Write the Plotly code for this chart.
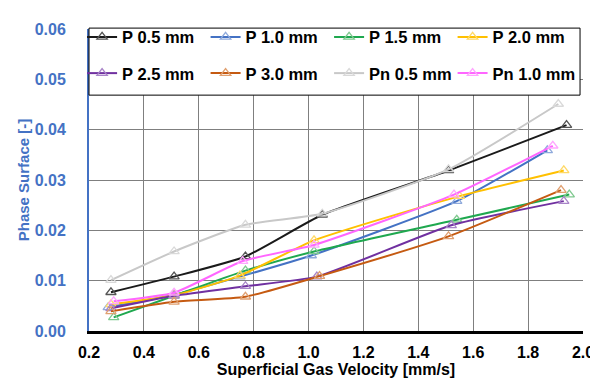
import plotly.graph_objects as go

names = ["P 0.5 mm", "P 1.0 mm", "P 1.5 mm", "P 2.0 mm",
         "P 2.5 mm", "P 3.0 mm", "Pn 0.5 mm", "Pn 1.0 mm"]

x_p05 = [0.28, 0.51, 0.77, 1.05, 1.51, 1.94]
y_p05 = [0.0077, 0.0108, 0.0148, 0.0231, 0.0319, 0.0409]

x_p10 = [0.27, 0.51, 0.75, 1.01, 1.54, 1.87]
y_p10 = [0.0047, 0.0072, 0.0108, 0.0150, 0.0258, 0.0359]

x_p15 = [0.29, 0.51, 0.77, 1.02, 1.54, 1.95]
y_p15 = [0.0027, 0.0070, 0.0120, 0.0158, 0.0221, 0.0271]

x_p20 = [0.28, 0.51, 0.75, 1.02, 1.55, 1.93]
y_p20 = [0.0053, 0.0071, 0.0110, 0.0180, 0.0268, 0.0319]

x_p25 = [0.28, 0.51, 0.77, 1.03, 1.52, 1.93]
y_p25 = [0.0045, 0.0070, 0.0089, 0.0108, 0.0210, 0.0258]

x_p30 = [0.28, 0.51, 0.77, 1.04, 1.51, 1.92]
y_p30 = [0.0039, 0.0058, 0.0068, 0.0109, 0.0188, 0.0280]

x_pn05 = [0.28, 0.51, 0.77, 1.05, 1.51, 1.91]
y_pn05 = [0.0101, 0.0158, 0.0211, 0.0233, 0.0321, 0.0451]

x_pn10 = [0.29, 0.51, 0.76, 1.02, 1.53, 1.89]
y_pn10 = [0.0059, 0.0076, 0.0139, 0.0171, 0.0271, 0.0368]

xs = [x_p05, x_p10, x_p15, x_p20, x_p25, x_p30, x_pn05, x_pn10]
ys = [y_p05, y_p10, y_p15, y_p20, y_p25, y_p30, y_pn05, y_pn10]

line_colors = ["#1a1a1a", "#4472C4", "#1FA84F", "#FFC000",
               "#7030A0", "#C55A11", "#C8C8C8", "#FF66FF"]
marker_colors = ["#555555", "#8FAADC", "#7FC98F", "#FFD966",
                 "#A884C8", "#E0A070", "#D9D9D9", "#FFA6FF"]

font_family = "Liberation Sans, Arial, sans-serif"

# legend grid layout (4 columns x 2 rows), paper coordinates
leg_cols = [-0.014, 0.236, 0.486, 0.736]
leg_rows = [0.973, 0.853]

fig = go.Figure()
legend_layouts = {}
for i, (n, x, y) in enumerate(zip(names, xs, ys)):
    key = "legend" if i == 0 else f"legend{i + 1}"
    fig.add_trace(go.Scatter(
        x=x, y=y, name=n, mode="lines+markers", showlegend=True,
        line=dict(color=line_colors[i], width=2, shape="spline", smoothing=0.5),
        marker=dict(symbol="triangle-up-open", size=9, color=marker_colors[i],
                    line=dict(width=1.3, color=marker_colors[i])),
        legend=key,
    ))
    legend_layouts[key] = dict(
        x=leg_cols[i % 4], y=leg_rows[i // 4], visible=True,
        xanchor="left", yanchor="middle", orientation="h",
        bgcolor="rgba(0,0,0,0)", borderwidth=0, itemwidth=30,
        font=dict(family=font_family, size=16.5, color="black", weight="bold"),
    )

fig.update_layout(
    width=598, height=379,
    margin=dict(l=81, r=13, t=20, b=49),
    paper_bgcolor="white", plot_bgcolor="white",
    font=dict(family=font_family),
    showlegend=True,
    shapes=[dict(type="rect", xref="paper", yref="paper",
                 x0=0.0, x1=0.994, y0=0.781, y1=1.003,
                 line=dict(color="black", width=1), fillcolor="white",
                 layer="above")],
    **legend_layouts,
)

fig.update_xaxes(
    range=[0.2, 2.0], dtick=0.2, tick0=0.2, tickformat=".1f",
    showgrid=True, gridcolor="#7f7f7f", gridwidth=1,
    showline=True, linecolor="black", linewidth=3,
    zeroline=False, ticks="", ticklabelstandoff=5,
    tickfont=dict(family=font_family, size=16, color="black", weight="bold"),
    title=dict(text="Superficial Gas Velocity [mm/s]", standoff=3,
               font=dict(family=font_family, size=16, color="black", weight="bold")),
)
fig.update_yaxes(
    range=[0, 0.06], dtick=0.01, tickformat=".2f",
    showgrid=True, gridcolor="#7f7f7f", gridwidth=1,
    showline=True, linecolor="#4472C4", linewidth=2,
    zeroline=False, ticks="", ticklabelstandoff=18,
    tickfont=dict(family=font_family, size=16, color="#4472C4", weight="bold"),
    title=dict(text="Phase Surface [-]", standoff=1,
               font=dict(family=font_family, size=15, color="#4472C4", weight="bold")),
)

fig.write_html("out.html")
